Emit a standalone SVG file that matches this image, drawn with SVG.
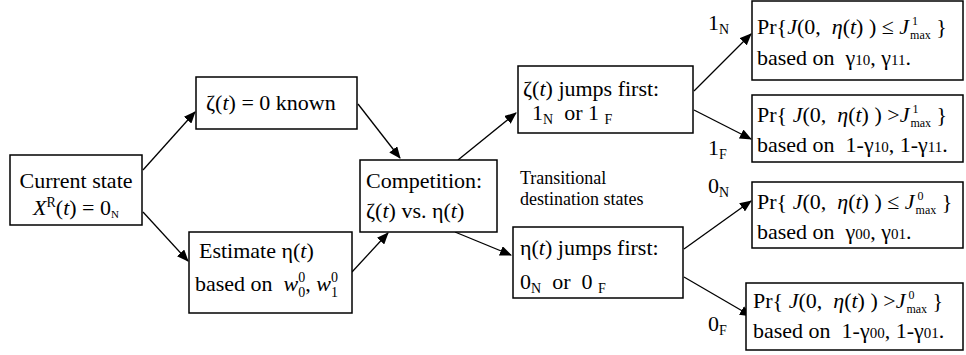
<svg xmlns="http://www.w3.org/2000/svg" width="966" height="355" viewBox="0 0 966 355">
<defs>
<marker id="ah" markerUnits="userSpaceOnUse" markerWidth="12" markerHeight="10" refX="11" refY="5" orient="auto"><path d="M0,0 L12,5 L0,10 z" fill="#000"/></marker>
<style>
.box{fill:#fff;stroke:#000;stroke-width:1.5}
.t{font-family:"Liberation Serif","Times New Roman",serif;font-size:22px;fill:#000}
.s{font-family:"Liberation Serif","Times New Roman",serif;font-size:18px;fill:#000}
.i{font-style:italic}
.sm{font-size:12px}
.sc{font-size:14px}
.g{font-size:15px}
.conn line{stroke:#000;stroke-width:1.3;marker-end:url(#ah)}
</style>
</defs>
<rect width="966" height="355" fill="#fff"/>
<g class="conn" id="connectors">
<line x1="143" y1="170" x2="195" y2="112"/>
<line x1="143" y1="212" x2="188" y2="261"/>
<line x1="358" y1="104" x2="400" y2="158"/>
<line x1="352" y1="272" x2="388" y2="233"/>
<line x1="458" y1="160" x2="516" y2="113"/>
<line x1="455" y1="232" x2="511" y2="255"/>
<line x1="694" y1="91" x2="751" y2="34"/>
<line x1="694" y1="110" x2="751" y2="139"/>
<line x1="684" y1="249" x2="751" y2="201"/>
<line x1="684" y1="277" x2="751" y2="316"/>
</g>
<g id="current">
<rect class="box" x="10" y="155" width="132" height="70"/>
<text class="t" x="76" y="188" text-anchor="middle">Current state</text>
<text class="t" x="76" y="215" text-anchor="middle"><tspan class="i">X</tspan><tspan class="sc" dy="-8">R</tspan><tspan dy="8">(</tspan><tspan class="i">t</tspan>) = 0<tspan font-size="11" dy="3">N</tspan></text>
</g>
<g id="zeta-known">
<rect class="box" x="196" y="77" width="161" height="52"/>
<text class="t" x="206" y="110">ζ(<tspan class="i">t</tspan>) = 0 known</text>
</g>
<g id="estimate">
<rect class="box" x="189" y="232" width="163" height="81"/>
<text class="t" x="199" y="258">Estimate η(<tspan class="i">t</tspan>)</text>
<text class="t" x="195" y="291" xml:space="preserve">based on  <tspan class="i">w</tspan><tspan class="sc" dy="-9">0</tspan><tspan class="sc" dx="-7" dy="15">0</tspan><tspan dy="-6">, </tspan><tspan class="i">w</tspan><tspan class="sc" dy="-9">0</tspan><tspan class="sc" dx="-7" dy="15">1</tspan></text>
</g>
<g id="competition">
<rect class="box" x="360" y="160" width="137" height="72"/>
<text class="t" x="366" y="188">Competition:</text>
<text class="t" x="366" y="218">ζ(<tspan class="i">t</tspan>) vs. η(<tspan class="i">t</tspan>)</text>
</g>
<g id="transitional">
<text class="s" x="520" y="184">Transitional</text>
<text class="s" x="520" y="205">destination states</text>
</g>
<g id="zeta-jumps">
<rect class="box" x="518" y="66" width="175" height="67"/>
<text class="t" x="523" y="96">ζ(<tspan class="i">t</tspan>) jumps first:</text>
<text class="t" x="532" y="120" xml:space="preserve">1<tspan class="sc" dy="4">N</tspan><tspan dy="-4">  or 1 </tspan><tspan class="sc" dy="4">F</tspan></text>
</g>
<g id="eta-jumps">
<rect class="box" x="513" y="227" width="170" height="71"/>
<text class="t" x="520" y="255">η(<tspan class="i">t</tspan>) jumps first:</text>
<text class="t" x="520" y="289" xml:space="preserve">0<tspan class="sc" dy="4">N</tspan><tspan dy="-4">  or  0 </tspan><tspan class="sc" dy="4">F</tspan></text>
</g>
<g id="labels">
<text class="t" x="708" y="30">1<tspan class="sc" dy="4">N</tspan></text>
<text class="t" x="708" y="155">1<tspan class="sc" dy="4">F</tspan></text>
<text class="t" x="708" y="193">0<tspan class="sc" dy="4">N</tspan></text>
<text class="t" x="708" y="331">0<tspan class="sc" dy="4">F</tspan></text>
</g>
<g id="pr-1n">
<rect class="box" x="752" y="1" width="211" height="79"/>
<text class="t" x="757" y="34" xml:space="preserve">Pr{<tspan class="i">J</tspan>(0,  <tspan class="i">η</tspan>(<tspan class="i">t</tspan>) ) ≤ <tspan class="i">J</tspan><tspan class="sm" dx="3" dy="-9">1</tspan><tspan class="sm" dx="-8" dy="14">max</tspan><tspan dy="-5"> }</tspan></text>
<text class="t" x="757" y="65" xml:space="preserve">based on  γ<tspan class="g">10</tspan>, γ<tspan class="g">11</tspan>.</text>
</g>
<g id="pr-1f">
<rect class="box" x="752" y="95" width="211" height="67"/>
<text class="t" x="757" y="122" xml:space="preserve">Pr{ <tspan class="i">J</tspan>(0,  <tspan class="i">η</tspan>(<tspan class="i">t</tspan>) ) &gt;<tspan class="i">J</tspan><tspan class="sm" dx="3" dy="-9">1</tspan><tspan class="sm" dx="-8" dy="14">max</tspan><tspan dy="-5"> }</tspan></text>
<text class="t" x="757" y="152" xml:space="preserve">based on  1-γ<tspan class="g">10</tspan>, 1-γ<tspan class="g">11</tspan>.</text>
</g>
<g id="pr-0n">
<rect class="box" x="752" y="182" width="211" height="66"/>
<text class="t" x="757" y="209" xml:space="preserve">Pr{ <tspan class="i">J</tspan>(0,  <tspan class="i">η</tspan>(<tspan class="i">t</tspan>) ) ≤ <tspan class="i">J</tspan><tspan class="sm" dx="3" dy="-9">0</tspan><tspan class="sm" dx="-8" dy="14">max</tspan><tspan dy="-5"> }</tspan></text>
<text class="t" x="757" y="239" xml:space="preserve">based on  γ<tspan class="g">00</tspan>, γ<tspan class="g">01</tspan>.</text>
</g>
<g id="pr-0f">
<rect class="box" x="746" y="283" width="217" height="67"/>
<text class="t" x="753" y="308" xml:space="preserve">Pr{ <tspan class="i">J</tspan>(0,  <tspan class="i">η</tspan>(<tspan class="i">t</tspan>) ) &gt;<tspan class="i">J</tspan><tspan class="sm" dx="3" dy="-9">0</tspan><tspan class="sm" dx="-8" dy="14">max</tspan><tspan dy="-5"> }</tspan></text>
<text class="t" x="753" y="338" xml:space="preserve">based on  1-γ<tspan class="g">00</tspan>, 1-γ<tspan class="g">01</tspan>.</text>
</g>
</svg>
